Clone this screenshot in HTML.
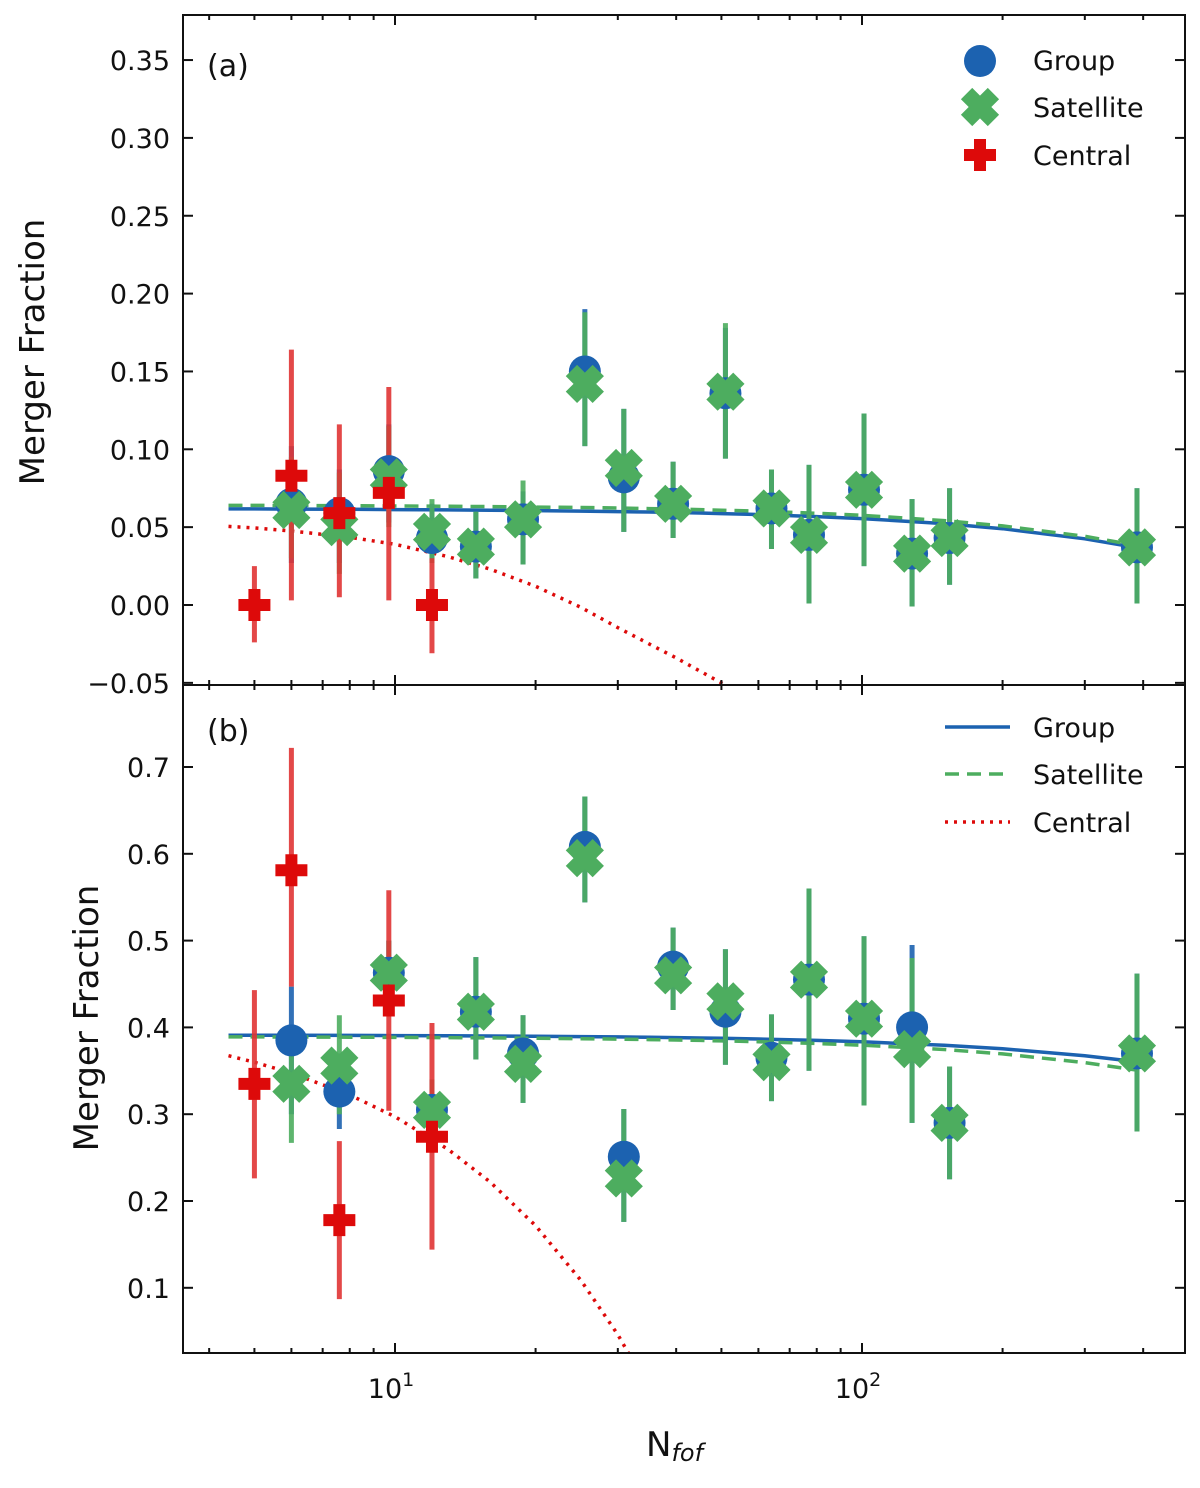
<!DOCTYPE html>
<html><head><meta charset="utf-8"><style>
html,body{margin:0;padding:0;background:#fff;}
svg text{font-family:"DejaVu Sans","Liberation Sans",sans-serif;fill:#111;}
</style></head><body>
<svg id="chart" width="1200" height="1483" viewBox="0 0 1200 1483" xmlns="http://www.w3.org/2000/svg"></svg>
<script>
// ---- data ----
const nfof = [5, 6, 7.6, 9.7, 12, 14.9, 18.8, 25.5, 30.9, 39.4, 51, 64, 77, 101, 128, 154, 388];
// panel (a)
const aGroup = [null, 0.065, 0.059, 0.086, 0.043, 0.0375, 0.055, 0.150, 0.082, 0.065, 0.136, 0.062, 0.045, 0.074, 0.033, 0.043, 0.037];
const aGroupLo = [null, 0.027, 0.027, 0.053, 0.027, 0.017, 0.026, 0.102, 0.047, 0.043, 0.094, 0.036, 0.001, 0.025, -0.001, 0.013, 0.001];
const aGroupHi = [null, 0.102, 0.087, 0.116, 0.065, 0.060, 0.073, 0.190, 0.126, 0.092, 0.178, 0.087, 0.090, 0.123, 0.068, 0.075, 0.075];
const aSat = [null, 0.061, 0.050, 0.082, 0.047, 0.0375, 0.055, 0.142, 0.088, 0.065, 0.137, 0.062, 0.045, 0.074, 0.033, 0.043, 0.037];
const aSatLo = [null, 0.030, 0.020, 0.050, 0.027, 0.017, 0.026, 0.102, 0.047, 0.043, 0.094, 0.036, 0.001, 0.025, -0.001, 0.013, 0.001];
const aSatHi = [null, 0.095, 0.085, 0.115, 0.068, 0.060, 0.080, 0.188, 0.126, 0.092, 0.181, 0.087, 0.090, 0.123, 0.068, 0.075, 0.075];
const aCen = [0.0, 0.083, 0.059, 0.072, 0.0];
const aCenLo = [-0.024, 0.003, 0.005, 0.003, -0.031];
const aCenHi = [0.025, 0.164, 0.116, 0.140, 0.030];
// panel (b)
const bGroup = [null, 0.385, 0.326, 0.463, 0.305, 0.418, 0.370, 0.608, 0.251, 0.470, 0.418, 0.365, 0.455, 0.410, 0.400, 0.290, 0.370];
const bGroupLo = [null, 0.300, 0.283, 0.420, 0.270, 0.363, 0.313, 0.544, 0.176, 0.420, 0.357, 0.315, 0.350, 0.310, 0.290, 0.225, 0.280];
const bGroupHi = [null, 0.447, 0.370, 0.500, 0.340, 0.481, 0.414, 0.666, 0.306, 0.515, 0.490, 0.415, 0.560, 0.505, 0.495, 0.355, 0.462];
const bSat = [null, 0.335, 0.356, 0.463, 0.305, 0.418, 0.358, 0.595, 0.226, 0.460, 0.430, 0.360, 0.455, 0.410, 0.375, 0.290, 0.370];
const bSatLo = [null, 0.267, 0.300, 0.420, 0.270, 0.363, 0.313, 0.544, 0.176, 0.420, 0.357, 0.315, 0.350, 0.310, 0.290, 0.225, 0.280];
const bSatHi = [null, 0.400, 0.414, 0.500, 0.340, 0.481, 0.414, 0.666, 0.306, 0.515, 0.490, 0.415, 0.560, 0.505, 0.480, 0.355, 0.462];
const bCen = [0.335, 0.581, 0.178, 0.431, 0.274];
const bCenLo = [0.226, 0.447, 0.087, 0.304, 0.144];
const bCenHi = [0.443, 0.722, 0.269, 0.558, 0.405];
// fit curves sampled
const fitN = [4.4, 5, 6, 8, 10, 13, 16, 20, 25, 30, 35, 40, 45, 50, 60, 80, 100, 150, 200, 300, 388];
const aFitGroup = [0.0617, 0.0617, 0.0616, 0.0615, 0.0613, 0.0611, 0.0609, 0.0606, 0.0603, 0.0600, 0.0597, 0.0594, 0.0591, 0.0587, 0.0581, 0.0568, 0.0555, 0.0523, 0.0490, 0.0425, 0.0368];
const aFitSat = [0.0640, 0.0640, 0.0639, 0.0638, 0.0636, 0.0634, 0.0632, 0.0629, 0.0626, 0.0623, 0.0619, 0.0616, 0.0613, 0.0609, 0.0603, 0.0589, 0.0576, 0.0542, 0.0508, 0.0441, 0.0382];
const aFitCen = [0.0505, 0.0495, 0.0475, 0.0435, 0.0390, 0.0310, 0.0230, 0.0120, -0.0015, -0.0145, -0.0250, -0.0340, -0.0425, -0.0500, -0.0650];
const bFitGroup = [0.3910, 0.3910, 0.3909, 0.3908, 0.3906, 0.3904, 0.3901, 0.3898, 0.3894, 0.3890, 0.3886, 0.3882, 0.3878, 0.3874, 0.3866, 0.3850, 0.3834, 0.3794, 0.3754, 0.3674, 0.3604];
const bFitSat = [0.3890, 0.3890, 0.3889, 0.3887, 0.3885, 0.3882, 0.3879, 0.3875, 0.3870, 0.3865, 0.3860, 0.3855, 0.3850, 0.3845, 0.3835, 0.3815, 0.3795, 0.3745, 0.3695, 0.3595, 0.3508];
const bFitCen = [0.3674, 0.3599, 0.3473, 0.3222, 0.2971, 0.2594, 0.2218, 0.1716, 0.1088, 0.0461, -0.0167, -0.0794, -0.1422, -0.2049];
const aTicks = [-0.05, 0.00, 0.05, 0.10, 0.15, 0.20, 0.25, 0.30, 0.35];
const aTickLabels = ["\u22120.05", "0.00", "0.05", "0.10", "0.15", "0.20", "0.25", "0.30", "0.35"];
const bTicks = [0.1, 0.2, 0.3, 0.4, 0.5, 0.6, 0.7];
const bTickLabels = ["0.1", "0.2", "0.3", "0.4", "0.5", "0.6", "0.7"];

// ---- layout ----
const NS = "http://www.w3.org/2000/svg";
const svg = document.getElementById('chart');
const L = 183, R = 1185;
const xPx = n => 395 + (Math.log10(n) - 1) * 467;
const A = {top: 15, bot: 685, y: v => 605 - v * 1557};
const B = {top: 685, bot: 1353, y: v => 767 + (0.7 - v) * 868};
const BLUE = '#1c62b0', GREEN = '#4dad5f', RED = '#dd0a0a';

function el(tag, attrs, parent) {
  const e = document.createElementNS(NS, tag);
  for (const k in attrs) e.setAttribute(k, attrs[k]);
  (parent || svg).appendChild(e);
  return e;
}
function clip(id, P) {
  const c = el('clipPath', {id: id});
  el('rect', {x: L, y: P.top, width: R - L, height: P.bot - P.top}, c);
}
clip('ca', A); clip('cb', B);

function plusPts(cx, cy, s, w) {
  const p = [[-w,-s],[w,-s],[w,-w],[s,-w],[s,w],[w,w],[w,s],[-w,s],[-w,w],[-s,w],[-s,-w],[-w,-w]];
  return p.map(q => (cx+q[0]) + ',' + (cy+q[1])).join(' ');
}
function xPts(cx, cy, s, w) {
  const p = [[-w,-s],[w,-s],[w,-w],[s,-w],[s,w],[w,w],[w,s],[-w,s],[-w,w],[-s,w],[-s,-w],[-w,-w]];
  const c = Math.SQRT1_2;
  return p.map(q => (cx + (q[0]-q[1])*c) + ',' + (cy + (q[0]+q[1])*c)).join(' ');
}
function curve(g, P, vals, color, dash, name, width) {
  let d = '';
  vals.forEach((v, i) => { d += (i ? 'L' : 'M') + xPx(fitN[i]).toFixed(1) + ',' + P.y(v).toFixed(1); });
  const p = el('path', {d: d, fill: 'none', stroke: color, 'stroke-width': width, 'stroke-dasharray': dash}, g);
  
  
}

function panel(P, cid, grp, gLo, gHi, sat, sLo, sHi, cen, cLo, cHi, fg, fs, fc, key) {
  const g = el('g', {'clip-path': 'url(#' + cid + ')'});
  
  
  curve(g, P, fg, BLUE, 'none', 'group-fit-line-' + key, 3.5);
  curve(g, P, fs, GREEN, '14 8', 'satellite-fit-line-' + key, 3.5);
  curve(g, P, fc, RED, '3 6', 'central-fit-line-' + key, 3.5);
  nfof.forEach((n, i) => {
    if (grp[i] == null) return;
    const x = xPx(n);
    const e1 = el('line', {x1: x, x2: x, y1: P.y(gLo[i]), y2: P.y(gHi[i]), stroke: BLUE, 'stroke-width': 5, opacity: 0.9}, g);
    
    
    const e2 = el('line', {x1: x, x2: x, y1: P.y(sLo[i]), y2: P.y(sHi[i]), stroke: GREEN, 'stroke-width': 5, opacity: 0.9}, g);
    
    
  });
  cen.forEach((v, i) => {
    const x = xPx(nfof[i]);
    const e = el('line', {x1: x, x2: x, y1: P.y(cLo[i]), y2: P.y(cHi[i]), stroke: '#e03535', 'stroke-width': 5, opacity: 0.9}, g);
    
    
  });
  nfof.forEach((n, i) => {
    if (grp[i] == null) return;
    const c = el('circle', {cx: xPx(n), cy: P.y(grp[i]), r: 16, fill: BLUE}, g);
    
    
  });
  nfof.forEach((n, i) => {
    if (sat[i] == null) return;
    const s = el('polygon', {points: xPts(xPx(n), P.y(sat[i]), 19, 8), fill: GREEN}, g);
    
    
  });
  cen.forEach((v, i) => {
    const s = el('polygon', {points: plusPts(xPx(nfof[i]), P.y(v), 16, 6), fill: RED}, g);
    
    
  });
}
panel(A, 'ca', aGroup, aGroupLo, aGroupHi, aSat, aSatLo, aSatHi, aCen, aCenLo, aCenHi, aFitGroup, aFitSat, aFitCen, 'a');
panel(B, 'cb', bGroup, bGroupLo, bGroupHi, bSat, bSatLo, bSatHi, bCen, bCenLo, bCenHi, bFitGroup, bFitSat, bFitCen, 'b');

function axes(P, ticks, labels, key) {
  const f = el('rect', {x: L, y: P.top, width: R - L, height: P.bot - P.top, fill: 'none', stroke: '#111', 'stroke-width': 2});
  
  
  ticks.forEach((v, i) => {
    const y = P.y(v);
    el('line', {x1: L, x2: L + 10, y1: y, y2: y, stroke: '#111', 'stroke-width': 2});
    el('line', {x1: R - 10, x2: R, y1: y, y2: y, stroke: '#111', 'stroke-width': 2});
    const t = el('text', {x: 170, y: y + 10, 'text-anchor': 'end', 'font-size': 27});
    t.textContent = labels[i];
    
    
  });
  for (let d = 0; d <= 2; d++) for (let m = 1; m <= 9; m++) {
    const n = m * Math.pow(10, d);
    const x = xPx(n);
    if (x < L || x > R) continue;
    const len = m === 1 ? 10 : 5;
    el('line', {x1: x, x2: x, y1: P.bot, y2: P.bot - len, stroke: '#111', 'stroke-width': 2});
    el('line', {x1: x, x2: x, y1: P.top, y2: P.top + len, stroke: '#111', 'stroke-width': 2});
  }
}
axes(A, aTicks, aTickLabels, 'a');
axes(B, bTicks, bTickLabels, 'b');

function txt(x, y, s, size, name, extra) {
  const t = el('text', Object.assign({x: x, y: y, 'font-size': size}, extra || {}));
  t.textContent = s;
  
  
  return t;
}
txt(207, 76, '(a)', 30, 'panel-label-a');
txt(207, 741, '(b)', 30, 'panel-label-b');
txt(0, 0, 'Merger Fraction', 34, 'y-axis-title-a', {transform: 'translate(44,352) rotate(-90)', 'text-anchor': 'middle'});
txt(0, 0, 'Merger Fraction', 34, 'y-axis-title-b', {transform: 'translate(98,1018) rotate(-90)', 'text-anchor': 'middle'});
[[10, '1'], [100, '2']].forEach(p => {
  const t = el('text', {x: xPx(p[0]) - 4, y: 1398, 'text-anchor': 'middle', 'font-size': 27});
  
  
  t.innerHTML = '10<tspan font-size="19" dy="-12">' + p[1] + '</tspan>';
});
const xl = el('text', {x: 646, y: 1456, 'font-size': 34});


xl.innerHTML = 'N<tspan font-size="24" font-style="italic" dy="5">fof</tspan>';

const la = el('g', {});


el('circle', {cx: 980, cy: 61, r: 16, fill: BLUE}, la);
el('polygon', {points: xPts(980, 107, 19, 8), fill: GREEN}, la);
el('polygon', {points: plusPts(980, 155, 16, 6), fill: RED}, la);
txt(1033, 70, 'Group', 27, 'legend-entry-group');
txt(1033, 117, 'Satellite', 27, 'legend-entry-satellite');
txt(1033, 165, 'Central', 27, 'legend-entry-central');
const lb = el('g', {});


el('line', {x1: 945, x2: 1010, y1: 727, y2: 727, stroke: BLUE, 'stroke-width': 3.5}, lb);
el('line', {x1: 945, x2: 1010, y1: 774, y2: 774, stroke: GREEN, 'stroke-width': 3.5, 'stroke-dasharray': '14 8'}, lb);
el('line', {x1: 945, x2: 1010, y1: 822, y2: 822, stroke: RED, 'stroke-width': 3.5, 'stroke-dasharray': '3 6'}, lb);
txt(1033, 737, 'Group', 27, 'legend-entry-group-line');
txt(1033, 784, 'Satellite', 27, 'legend-entry-satellite-line');
txt(1033, 832, 'Central', 27, 'legend-entry-central-line');
</script>
</body></html>
